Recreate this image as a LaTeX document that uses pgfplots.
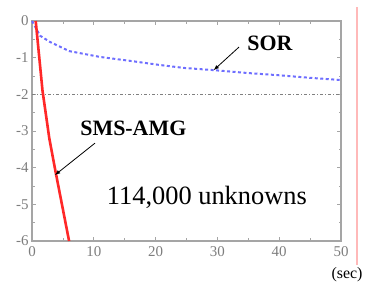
\documentclass[border=0pt]{standalone}
\usepackage{pgfplots}
\pgfplotsset{compat=1.18}
\usepackage{fontspec}
\setmainfont{Liberation Serif}
\definecolor{axgray}{RGB}{165,165,165}
\definecolor{lblgray}{RGB}{125,125,125}
\definecolor{sorblue}{RGB}{110,110,255}
\definecolor{amgred}{RGB}{255,40,40}
\definecolor{pinkline}{RGB}{255,185,185}
\begin{document}
\begin{tikzpicture}[x=1bp,y=1bp]
\begin{axis}[
  at={(32bp,41bp)}, anchor=south west,
  scale only axis, width=309bp, height=220bp,
  xmin=0, xmax=50, ymin=-6, ymax=0,
  xtick={0,10,...,50}, ytick={-6,-5,...,0},
  minor x tick num=1, minor y tick num=1,
  tick align=inside,
  major tick length=4bp, minor tick length=2.5bp,
  axis line style={axgray, line width=1.2bp},
  tick style={axgray, line width=0.8bp},
  ticklabel style={font=\fontsize{15}{15}\selectfont, text=lblgray},
  /pgf/number format/assume math mode=true,
  yticklabel style={xshift=0bp},
  xticklabel style={yshift=-2bp},
  clip=false,
]
\addplot[gray, line width=0.6bp, dash pattern=on 3bp off 2bp on 1bp off 2bp] coordinates {(0,-2) (50,-2)};
\addplot[sorblue, line width=2bp, dash pattern=on 3bp off 2.5bp] coordinates {
(0,0) (1.3,-0.4) (2.9,-0.57) (6,-0.82) (11,-0.98) (16,-1.09) (20.7,-1.2) (24.6,-1.28) (29.4,-1.34) (35,-1.42) (40,-1.48) (45,-1.55) (50,-1.61)};
\addplot[amgred, line width=2.6bp] coordinates {
(0.6,0) (1.7,-1.9) (2.8,-3.2) (3.8,-4.1) (6,-6)};
\node[font=\fontsize{22}{22}\selectfont\bfseries] at (axis cs:38.5,-0.6) {SOR};
\node[font=\fontsize{22}{22}\selectfont\bfseries] at (axis cs:16.4,-2.93) {SMS-AMG};
\node[font=\fontsize{26.5}{26.5}\selectfont] at (axis cs:28.3,-4.8) {114,000 unknowns};
\draw[-latex, line width=0.8bp] (axis cs:33.5,-0.71) -- (axis cs:29.4,-1.34);
\draw[-latex, line width=0.8bp] (axis cs:10.2,-3.33) -- (axis cs:3.72,-4.2);
\end{axis}
\draw[pinkline, line width=2bp] (357,17) -- (357,275);
\node[font=\fontsize{16}{16}\selectfont, anchor=base] at (347,4) {(sec)};
\pgfresetboundingbox
\path (0,0) rectangle (368,282);
\end{tikzpicture}
\end{document}
